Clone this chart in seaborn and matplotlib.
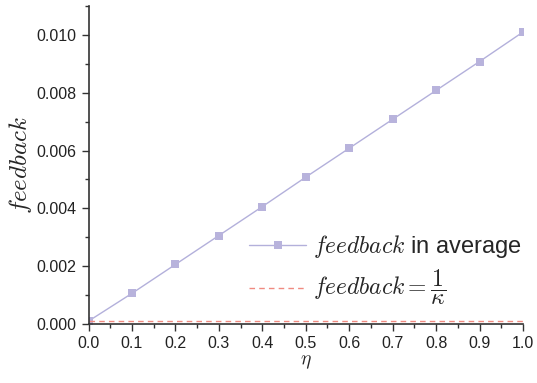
import numpy as np
import pandas as pd
import seaborn as sns
import matplotlib
matplotlib.use("Agg")
import matplotlib.pyplot as plt
from matplotlib.ticker import MultipleLocator

eta = [0.0, 0.1, 0.2, 0.3, 0.4, 0.5, 0.6, 0.7, 0.8, 0.9, 1.0]
feedback_avg = [0.0001, 0.00106, 0.00206, 0.00306, 0.00406, 0.00508, 0.00608, 0.00708, 0.00808, 0.00908, 0.0101]
inv_kappa = 0.0001

sns.set_style("ticks")
plt.rcParams['font.family'] = ['Liberation Sans', 'DejaVu Sans']
plt.rcParams['mathtext.fontset'] = 'cm'

df = pd.DataFrame({"eta": eta, "feedback": feedback_avg})

fig = plt.figure(figsize=(5.37, 3.83), dpi=100)
ax = fig.add_axes([88.5/537, 1 - 324/383, (523 - 88.5)/537, (324 - 6)/383])

sns.lineplot(data=df, x="eta", y="feedback", ax=ax, color="#b3b0db", lw=1.0,
             marker="s", markersize=5.5, markeredgewidth=0, markerfacecolor="#b8b3dc",
             label=r"$feedback$ in average")
ax.axhline(inv_kappa, color="#f08a80", lw=1.0, ls=(0, (4, 3)),
           label=r"$feedback = \dfrac{1}{\kappa}$")

ax.set_xlim(0, 1.0)
ax.set_ylim(0, 0.011)
ax.xaxis.set_major_locator(MultipleLocator(0.1))
ax.xaxis.set_minor_locator(MultipleLocator(0.05))
ax.yaxis.set_major_locator(MultipleLocator(0.002))
ax.yaxis.set_minor_locator(MultipleLocator(0.001))
ax.xaxis.set_major_formatter(matplotlib.ticker.FormatStrFormatter("%.1f"))
ax.yaxis.set_major_formatter(matplotlib.ticker.FormatStrFormatter("%.3f"))
ax.tick_params(axis='both', which='major', length=5, width=1, labelsize=11.5, color="#333333", labelcolor="#222222")
ax.tick_params(axis='both', which='minor', length=3, width=1, color="#333333")
for s in ["top", "right"]:
    ax.spines[s].set_visible(False)
for s in ["left", "bottom"]:
    ax.spines[s].set_linewidth(1.2)
    ax.spines[s].set_color("#333333")

ax.set_xlabel(r"$\eta$", fontsize=14, labelpad=2)
ax.set_ylabel(r"$feedback$", fontsize=18, labelpad=2)

ax.legend(loc="lower right", bbox_to_anchor=(1.035, 0.0), frameon=False, fontsize=17,
          handlelength=2.4, handletextpad=0.3, labelspacing=0.35, borderpad=0.2)

fig.savefig("out.png", dpi=100)
